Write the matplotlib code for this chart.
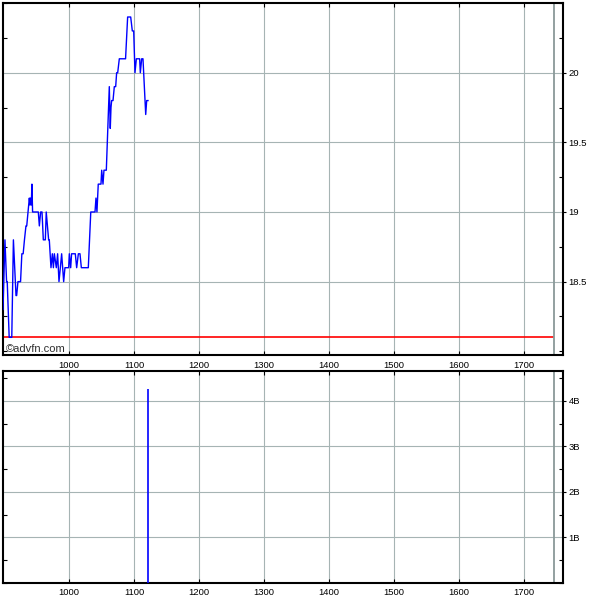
"""
Price and volume chart in the advfn style.
"""

import matplotlib

matplotlib.use("Agg")
import matplotlib.pyplot as plt  # noqa: E402
from matplotlib.ticker import FuncFormatter, MultipleLocator  # noqa: E402

# price trace (x position, price)
price_x = [
    898.5, 901.5, 904.0, 905.0, 908.0, 912.0, 914.5, 918.5, 919.5, 921.5,
    925.5, 927.5, 929.5, 931.5, 933.8, 935.0, 939.0, 940.0, 941.0, 942.0,
    943.0, 944.0, 952.8, 954.4, 956.4, 958.5, 960.5, 963.6, 965.0, 968.7,
    969.7, 972.3, 974.4, 976.0, 977.5, 980.5, 982.5, 984.6, 986.7, 988.7,
    991.8, 993.8, 999.5, 1000.5, 1002.6, 1004.0, 1009.7, 1011.8, 1014.4,
    1016.9, 1019.0, 1029.7, 1033.5, 1040.0, 1041.5, 1043.0, 1045.0, 1049.2,
    1050.3, 1052.3, 1053.8, 1057.4, 1062.0, 1063.5, 1064.6, 1065.6, 1067.7,
    1069.7, 1071.8, 1073.3, 1074.9, 1077.4, 1087.0, 1090.2, 1094.9, 1097.4,
    1099.5, 1101.5, 1103.6, 1108.7, 1109.7, 1111.8, 1113.8, 1118.0, 1119.5,
    1121.5,
]
price_y = [
    18.30, 18.80, 18.50, 18.50, 18.10, 18.10, 18.80, 18.40, 18.40, 18.50,
    18.50, 18.70, 18.70, 18.80, 18.90, 18.90, 19.10, 19.05, 19.10, 19.05,
    19.20, 19.00, 19.00, 18.90, 19.00, 19.00, 18.80, 18.80, 19.00, 18.80,
    18.80, 18.60, 18.70, 18.60, 18.70, 18.60, 18.70, 18.50, 18.60, 18.70,
    18.50, 18.60, 18.60, 18.70, 18.60, 18.70, 18.70, 18.60, 18.70,
    18.70, 18.60, 18.60, 19.00, 19.00, 19.10, 19.00, 19.20, 19.20,
    19.30, 19.20, 19.30, 19.30, 19.90, 19.60, 19.75, 19.80, 19.80,
    19.90, 19.90, 20.00, 20.00, 20.10, 20.10, 20.40, 20.40, 20.30,
    20.30, 20.00, 20.10, 20.10, 20.00, 20.10, 20.10, 19.70, 19.80,
    19.80,
]

ref_level = 18.1
now_x = 1746

vol_x = [1122]
vol_y = [4.27e9]

x_ticks = [1000, 1100, 1200, 1300, 1400, 1500, 1600, 1700]
price_ticks = [18.5, 19, 19.5, 20]
vol_ticks = [1e9, 2e9, 3e9, 4e9]

GRID = "#a6b4b4"
FONT = "Liberation Sans"


def style_axes(ax):
    for side in ("top", "bottom", "left", "right"):
        ax.spines[side].set_linewidth(1.5)
        ax.spines[side].set_color("black")
    ax.set_xticks(x_ticks)
    ax.grid(True, color=GRID, linewidth=0.8)
    ax.axvline(now_x, color="#8a9999", linewidth=1.3)
    ax.yaxis.tick_right()
    ax.tick_params(axis="y", which="major", direction="out", length=2.5,
                   width=0.8, labelsize=6.8, pad=1.5, left=False, right=True)
    ax.tick_params(axis="y", which="minor", direction="in", length=3,
                   width=0.8, left=True, right=True)
    ax.tick_params(axis="x", which="major", direction="in", length=3,
                   width=0.8, labelsize=6.8, pad=4, top=True, bottom=True)
    for lab in ax.get_xticklabels() + ax.get_yticklabels():
        lab.set_fontfamily(FONT)


fig = plt.figure(figsize=(6, 6), dpi=100)
ax1 = fig.add_axes([0.005, 0.4083, 0.933, 0.5875])
ax2 = fig.add_axes([0.005, 0.0288, 0.933, 0.3537])

# price panel
ax1.plot(price_x, price_y, color="#0000ff", linewidth=1.0, zorder=3)
ax1.hlines(ref_level, 898.5, now_x, color="#ff0000", linewidth=1.2, zorder=2)
ax1.set_xlim(898.5, 1759.5)
ax1.set_ylim(17.973, 20.504)
ax1.set_yticks(price_ticks)
ax1.yaxis.set_minor_locator(MultipleLocator(0.25))
ax1.yaxis.set_major_formatter(FuncFormatter(lambda v, p: f"{v:g}"))
style_axes(ax1)
ax1.text(0.006, 0.004, "\u00a9advfn.com", transform=ax1.transAxes,
         fontsize=8, color="#303030", family=FONT, ha="left", va="bottom")

# volume panel
ax2.vlines(vol_x, 0, vol_y, color="#0000ff", linewidth=1.2, zorder=3)
ax2.set_xlim(898.5, 1759.5)
ax2.set_ylim(0, 4.67e9)
ax2.set_yticks(vol_ticks)
ax2.yaxis.set_minor_locator(MultipleLocator(0.5e9))
ax2.yaxis.set_major_formatter(FuncFormatter(lambda v, p: f"{v / 1e9:g}B"))
style_axes(ax2)

fig.savefig("out.png", dpi=100)
